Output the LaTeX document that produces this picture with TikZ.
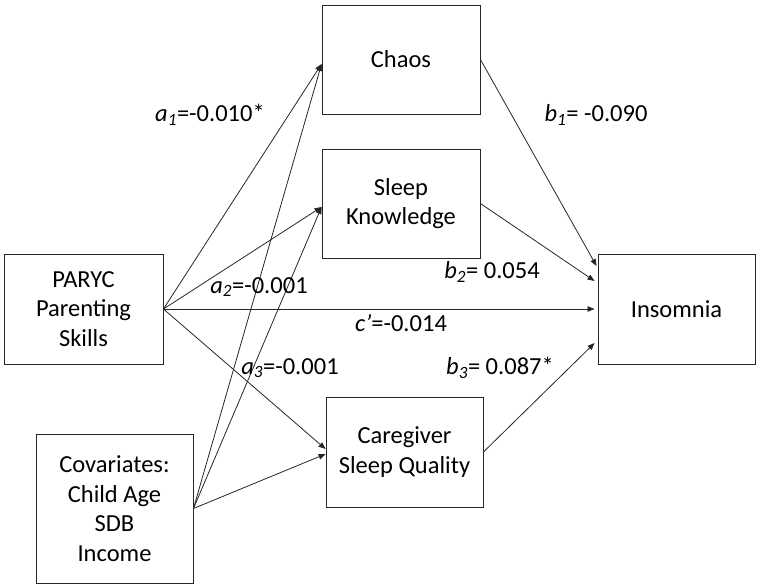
\documentclass[tikz,border=0pt]{standalone}
\usepackage{fontspec}
\setmainfont{Carlito}
\usetikzlibrary{arrows.meta,calc}
\begin{document}
\begin{tikzpicture}[x=1pt,y=-1pt,
  box/.style={draw=black!85,line width=0.9pt,minimum width=158pt,minimum height=109pt,align=center,inner sep=0pt,font=\fontsize{24.5}{29.5}\selectfont},
  lab/.style={inner sep=0pt,font=\fontsize{24.5}{29.5}\selectfont},
  arr/.style={draw=black!85,line width=0.8pt,-{Triangle[length=7pt,width=5.5pt]}}]
\useasboundingbox (0,0) rectangle (760,587);
\node[box] (chaos) at (401,59.5) {Chaos};
\node[box] (sk) at (401,203.5) {Sleep\\Knowledge};
\node[box,minimum width=159pt,minimum height=110pt] (par) at (83.5,309) {PARYC\\Parenting\\Skills};
\node[box,minimum width=157pt,minimum height=149pt] (cov) at (114.5,508.5) {Covariates:\\Child Age\\SDB\\Income};
\node[box,minimum width=157pt,minimum height=110pt] (cg) at (404.5,452) {Caregiver\\Sleep Quality};
\node[box,minimum width=157pt,minimum height=110pt] (ins) at (676.5,309) {Insomnia};
% a paths
\draw[arr] (par.east) -- ($(chaos.west)+(0,4.5)$);
\draw[arr] (par.east) -- ($(sk.west)+(0,3.5)$);
\draw[arr] (par.east) -- ($(ins.west)+(-3,0)$);
\draw[arr] (par.east) -- ($(cg.west)+(0,-3)$);
% covariates
\draw[arr] (cov.east) -- ($(chaos.west)+(0,4.5)$);
\draw[arr] (cov.east) -- ($(sk.west)+(0,3.5)$);
\draw[arr] (cov.east) -- ($(cg.west)+(0,2)$);
% b paths
\draw[arr] (chaos.east) -- ($(ins.west)+(-1,-43)$);
\draw[arr] (sk.east) -- ($(ins.west)+(-3,-28)$);
\draw[arr] (cg.east) -- ($(ins.west)+(-3,34)$);
% labels
\node[lab] (la1) at (210,115) {\textit{a\textsubscript{1}}=-0.010*};
\node[lab] (lb1) at (596,115) {\textit{b\textsubscript{1}}= -0.090};
\node[lab] (la2) at (259,287) {\textit{a\textsubscript{2}}=-0.001};
\node[lab] (lb2) at (492,272) {\textit{b\textsubscript{2}}= 0.054};
\node[lab] (lc) at (401,323) {\textit{c’}=-0.014};
\node[lab] (la3) at (290,368) {\textit{a\textsubscript{3}}=-0.001};
\node[lab] (lb3) at (500,368) {\textit{b\textsubscript{3}}= 0.087*};
\end{tikzpicture}
\end{document}
